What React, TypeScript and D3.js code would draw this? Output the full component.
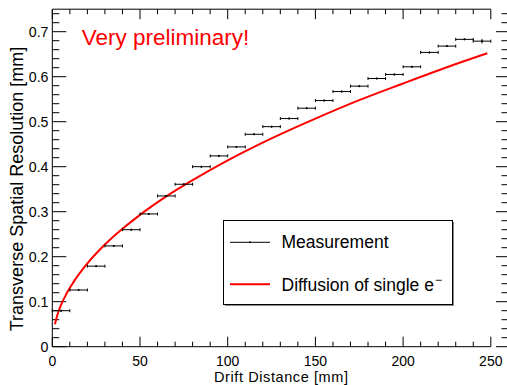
import * as d3 from 'd3';

// measurement: bin centres [mm] and resolution [mm]
const binCenters = [5, 15, 25, 35, 45, 55, 65, 75, 85, 95, 105, 115, 125, 135, 145, 155, 165, 175, 185, 195, 205, 215, 225, 235, 245];
const resolution = [0.080, 0.126, 0.179, 0.224, 0.260, 0.295, 0.335, 0.361, 0.400, 0.424, 0.444, 0.472, 0.489, 0.507, 0.530, 0.547, 0.567, 0.579, 0.596, 0.605, 0.622, 0.654, 0.668, 0.683, 0.679];
const resolutionErr = [0.002, 0.002, 0.002, 0.002, 0.002, 0.002, 0.002, 0.002, 0.002, 0.002, 0.002, 0.002, 0.002, 0.002, 0.002, 0.002, 0.002, 0.002, 0.002, 0.002, 0.002, 0.002, 0.002, 0.002, 0.005];
const binHalfWidth = 5;

// single electron diffusion curve
const diffX = [1.5, 3, 5, 8, 12, 20, 30, 40, 50, 65, 80, 100, 125, 150, 175, 200, 225, 248];
const diffY = [0.050, 0.072, 0.093, 0.117, 0.143, 0.185, 0.227, 0.262, 0.293, 0.334, 0.370, 0.414, 0.463, 0.507, 0.548, 0.585, 0.621, 0.652];

const xMajor = [0, 50, 100, 150, 200, 250];
const xTickLabels = ['0', '50', '100', '150', '200', '250'];
const yMajor = [0, 0.1, 0.2, 0.3, 0.4, 0.5, 0.6, 0.7];
const yTickLabels = ['0', '0.1', '0.2', '0.3', '0.4', '0.5', '0.6', '0.7'];

const W = 507;
const H = 385;
const left = 52.3;
const right = 490.8;
const top = 9.2;
const bottom = 346.7;
const rightFrame = 509;
const FONT = '"Liberation Sans", Arial, Helvetica, sans-serif';

export default function App() {
  const x = d3.scaleLinear().domain([0, 250]).range([left, right]);
  const y = d3.scaleLinear().domain([0, 0.75]).range([bottom, top]);

  const xMinor = d3.range(0, 250.001, 10).filter(v => v % 50 !== 0);
  const yMinor = d3.range(0, 0.7501, 0.02).filter(v => Math.abs(v * 10 - Math.round(v * 10)) > 1e-6);

  const line = d3.line<number>()
    .x((_d, i) => x(diffX[i]))
    .y(d => y(d))
    .curve(d3.curveMonotoneX);

  const pts = binCenters.map((c, i) => ({ c, v: resolution[i], e: resolutionErr[i] }));

  return (
    <svg width={W} height={H} style={{ position: 'absolute', left: 0, top: 0, display: 'block', background: '#fff' }}>
      {/* frame lines */}
      <line x1={left} x2={left} y1={top} y2={bottom} stroke="#000" strokeWidth={1} />
      <line x1={left} x2={right} y1={bottom} y2={bottom} stroke="#000" strokeWidth={1} />
      <line x1={left} x2={right} y1={top} y2={top} stroke="#000" strokeWidth={1} />
      <line x1={rightFrame} x2={rightFrame} y1={top} y2={bottom} stroke="#000" strokeWidth={1} />

      {/* x ticks, bottom and top */}
      {xMajor.map(v => (
        <g key={'xM' + v}>
          <line x1={x(v)} x2={x(v)} y1={bottom} y2={bottom - 10} stroke="#000" />
          <line x1={x(v)} x2={x(v)} y1={top} y2={top + 10} stroke="#000" />
        </g>
      ))}
      {xMinor.map(v => (
        <g key={'xm' + v}>
          <line x1={x(v)} x2={x(v)} y1={bottom} y2={bottom - 5} stroke="#000" />
          <line x1={x(v)} x2={x(v)} y1={top} y2={top + 5} stroke="#000" />
        </g>
      ))}

      {/* y ticks, left and right */}
      {yMajor.map(v => (
        <g key={'yM' + v}>
          <line x1={left} x2={left + 14} y1={y(v)} y2={y(v)} stroke="#000" />
          <line x1={rightFrame} x2={rightFrame - 13} y1={y(v)} y2={y(v)} stroke="#000" />
        </g>
      ))}
      {yMinor.map(v => (
        <g key={'ym' + v}>
          <line x1={left} x2={left + 7} y1={y(v)} y2={y(v)} stroke="#000" />
          <line x1={rightFrame} x2={rightFrame - 7.5} y1={y(v)} y2={y(v)} stroke="#000" />
        </g>
      ))}

      {/* tick labels */}
      {xMajor.map((v, i) => (
        <text key={'xl' + v} x={x(v)} y={365.8} textAnchor="middle" fontFamily={FONT} fontSize={14} fill="#000">
          {xTickLabels[i]}
        </text>
      ))}
      {yMajor.map((v, i) => (
        <text key={'yl' + v} x={48.5} y={y(v)} dy="0.35em" textAnchor="end" fontFamily={FONT} fontSize={14.2} fill="#000">
          {yTickLabels[i]}
        </text>
      ))}

      {/* axis titles */}
      <text x={214} y={381.8} textLength={134} lengthAdjust="spacing" fontFamily={FONT} fontSize={14.5} fill="#000">Drift Distance [mm]</text>
      <text transform={`translate(22.5, ${189}) rotate(-90)`} textAnchor="middle" fontFamily={FONT} fontSize={18} fill="#000">
        Transverse Spatial Resolution [mm]
      </text>

      {/* diffusion curve */}
      <path d={line(diffY) || ''} fill="none" stroke="#ff0000" strokeWidth={2} />

      {/* measurement */}
      {pts.map(p => (
        <g key={'p' + p.c} stroke="#000" strokeWidth={1}>
          <line x1={x(p.c - binHalfWidth)} x2={x(p.c + binHalfWidth)} y1={y(p.v)} y2={y(p.v)} />
          <line x1={x(p.c - binHalfWidth)} x2={x(p.c - binHalfWidth)} y1={y(p.v) - 1.5} y2={y(p.v) + 1.5} />
          <line x1={x(p.c + binHalfWidth)} x2={x(p.c + binHalfWidth)} y1={y(p.v) - 1.5} y2={y(p.v) + 1.5} />
          <line x1={x(p.c)} x2={x(p.c)} y1={y(p.v - p.e)} y2={y(p.v + p.e)} />
          <circle cx={x(p.c)} cy={y(p.v)} r={1} fill="#000" stroke="none" />
        </g>
      ))}

      {/* label */}
      <text x={81.7} y={45} fontFamily={FONT} fontSize={22.5} fill="#ff0000">Very preliminary!</text>

      {/* legend */}
      <rect x={225} y={222} width={229} height={84} fill="#888" />
      <rect x={223.5} y={220.5} width={229} height={84} fill="#fff" stroke="#000" strokeWidth={1} />
      <line x1={230} x2={270} y1={242.3} y2={242.3} stroke="#000" strokeWidth={1} />
      <circle cx={250} cy={242.3} r={1} fill="#000" />
      <text x={281.5} y={248.3} fontFamily={FONT} fontSize={17.5} fill="#000">Measurement</text>
      <line x1={230} x2={270} y1={284.3} y2={284.3} stroke="#ff0000" strokeWidth={2} />
      <text x={281.5} y={290.5} fontFamily={FONT} fontSize={17.5} fill="#000">
        Diffusion of single e<tspan dx={1} dy={-7} fontSize={12}>−</tspan>
      </text>
    </svg>
  );
}
